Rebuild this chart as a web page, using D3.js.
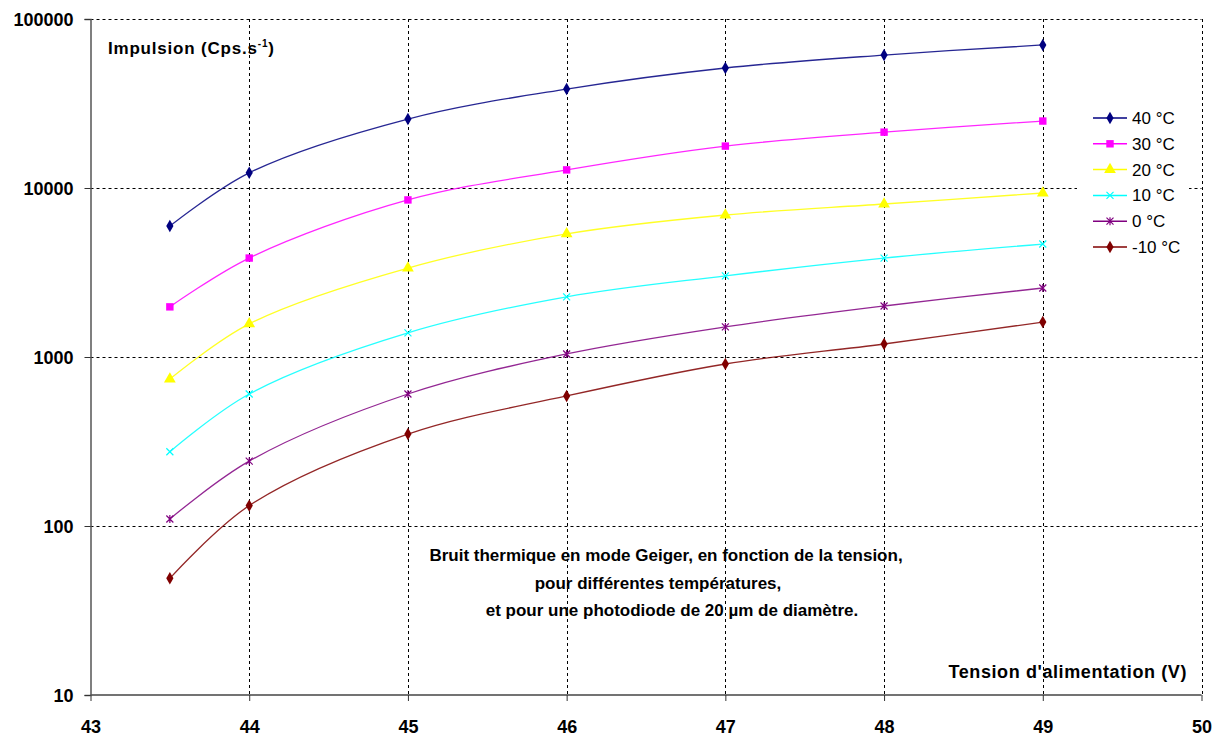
<!DOCTYPE html>
<html><head><meta charset="utf-8">
<script src="https://cdn.jsdelivr.net/npm/d3@7"></script>
<style>body{margin:0;background:#fff}svg{display:block}text{font-family:"Liberation Sans",Arial,sans-serif}</style>
</head><body>
<svg id="c" width="1219" height="738"></svg>
<script>
const voltages = [43.5, 44, 45, 46, 47, 48, 49];
const seriesNames = ["40 °C", "30 °C", "20 °C", "10 °C", "0 °C", "-10 °C"];
const s40 = [5950, 12300, 25600, 38500, 51300, 61200, 70200];
const s30 = [1980, 3850, 8500, 12800, 17700, 21400, 24900];
const s20 = [740, 1570, 3360, 5350, 6920, 8040, 9340];
const s10 = [275, 604, 1390, 2270, 3020, 3850, 4660];
const s0 = [110, 242, 604, 1042, 1506, 2003, 2560];
const sm10 = [49, 132, 350, 588, 909, 1194, 1610];
const xTicks = [43, 44, 45, 46, 47, 48, 49, 50];
const yTicks = [10, 100, 1000, 10000, 100000];
const colors = ["#000080", "#FF00FF", "#FFFF00", "#00FFFF", "#800080", "#800000"];
const markers = ["diamond", "square", "triangle", "x", "star", "diamond"];
const allSeries = [s40, s30, s20, s10, s0, sm10];

const svg = d3.select("#c");
const x = d3.scaleLinear().domain([43, 50]).range([90.5, 1201.5]);
const y = d3.scaleLog().domain([10, 100000]).range([695, 19]);

// grid
const g = svg.append("g");
g.selectAll(".hg").data(yTicks.slice(1)).enter().append("line")
  .attr("x1", x(43)).attr("x2", x(50)).attr("y1", d => Math.round(y(d)) + 0.5).attr("y2", d => Math.round(y(d)) + 0.5)
  .attr("stroke", "#000").attr("stroke-width", 1).attr("stroke-dasharray", "3,3");
g.selectAll(".vg").data(xTicks.slice(1)).enter().append("line")
  .attr("x1", d => Math.round(x(d)) + 0.5).attr("x2", d => Math.round(x(d)) + 0.5).attr("y1", y(100000)).attr("y2", y(10))
  .attr("stroke", "#000").attr("stroke-width", 1).attr("stroke-dasharray", "3,3");

// axes
const xAxis = d3.axisBottom(x).tickValues(xTicks).tickSize(6).tickFormat(d3.format("d"));
const yAxis = d3.axisLeft(y).tickValues(yTicks).tickSize(6).tickFormat(d3.format("d"));
const xa = svg.append("g").attr("transform", "translate(0,695)").call(xAxis);
const ya = svg.append("g").attr("transform", "translate(90.5,0)").call(yAxis);
[xa, ya].forEach(a => {
  a.select(".domain").attr("stroke", "#555").attr("stroke-width", 1.5);
  a.selectAll(".tick line").attr("stroke", "#333");
  a.selectAll("text").attr("font-size", 18).attr("font-weight", "bold").attr("fill", "#000");
});
xa.select(".domain").attr("d", `M${x(43)},0H${x(50)}`).attr("stroke", "#444");
xa.selectAll("text").attr("y", 38).attr("dy", 0);
ya.selectAll("text").attr("x", -17).attr("dy", "0.36em");

// lines
const line = d3.line().x(d => x(d[0])).y(d => y(d[1])).curve(d3.curveCatmullRom.alpha(0.5));
const sym = {
  diamond: d3.symbol().type(d3.symbolDiamond).size(45),
  square: d3.symbol().type(d3.symbolSquare).size(55),
  triangle: d3.symbol().type(d3.symbolTriangle).size(60),
};
function drawMarker(sel, type, color) {
  if (type === "x") {
    sel.append("path").attr("d", "M-3.5,-3.5L3.5,3.5M-3.5,3.5L3.5,-3.5").attr("stroke", color).attr("stroke-width", 1.2).attr("fill", "none");
  } else if (type === "star") {
    sel.append("path").attr("d", "M-3.5,-3.5L3.5,3.5M-3.5,3.5L3.5,-3.5M0,-4L0,4").attr("stroke", color).attr("stroke-width", 1.2).attr("fill", "none");
  } else {
    sel.append("path").attr("d", sym[type]()).attr("fill", color);
  }
}
allSeries.forEach((vals, i) => {
  const pts = voltages.map((v, j) => [v, vals[j]]);
  svg.append("path").attr("d", line(pts)).attr("fill", "none").attr("stroke", colors[i]).attr("stroke-width", 1.3).attr("opacity", 0.85);
  pts.forEach(p => {
    const m = svg.append("g").attr("transform", `translate(${x(p[0])},${y(p[1])})`);
    drawMarker(m, markers[i], colors[i]);
  });
});

// legend
const leg = svg.append("g");
leg.append("rect").attr("x", 1077).attr("y", 103).attr("width", 112).attr("height", 160).attr("fill", "#fff");
seriesNames.forEach((n, i) => {
  const yy = 118 + i * 25.8;
  leg.append("line").attr("x1", 1093).attr("x2", 1127).attr("y1", yy).attr("y2", yy).attr("stroke", colors[i]).attr("stroke-width", 1.5);
  const m = leg.append("g").attr("transform", `translate(1110,${yy})`);
  drawMarker(m, markers[i], colors[i]);
  leg.append("text").attr("x", 1132).attr("y", yy + 6).attr("font-size", 17).attr("fill", "#000").text(n);
});

// labels
const yl = svg.append("text").attr("x", 108).attr("y", 54).attr("font-size", 17).attr("font-weight", "bold").attr("letter-spacing", 0.8);
yl.append("tspan").text("Impulsion (Cps.s");
yl.append("tspan").attr("dy", -7).attr("font-size", 10).text("-1");
yl.append("tspan").attr("dy", 7).text(")");
svg.append("text").attr("x", 1187).attr("y", 678).attr("text-anchor", "end").attr("font-size", 18).attr("font-weight", "bold").attr("letter-spacing", 0.6).text("Tension d'alimentation (V)");
const notes = ["Bruit thermique en mode Geiger, en fonction de la tension,", "pour différentes températures,", "et pour une photodiode de 20 µm de diamètre."];
const noteX = [666, 658, 672];
notes.forEach((t, i) => {
  svg.append("text").attr("x", noteX[i]).attr("y", 561 + i * 27.5).attr("text-anchor", "middle").attr("font-size", 17).attr("font-weight", "bold").text(t);
});
</script>
</body></html>
